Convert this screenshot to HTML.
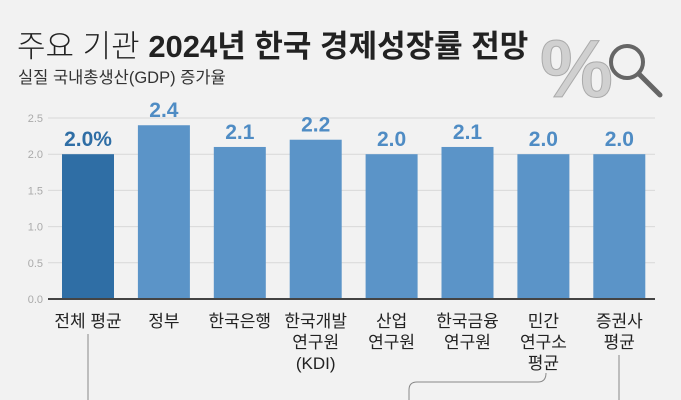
<!DOCTYPE html>
<html><head><meta charset="utf-8"><style>
body{margin:0;background:#f2f2f2;}
svg{display:block;font-family:"Liberation Sans","Noto Sans CJK KR",sans-serif;}
</style></head><body>
<svg id="c" width="681" height="400" viewBox="0 0 681 400">
<rect width="681" height="400" fill="#f2f2f2"/>
<text x="17" y="57" font-size="31" fill="#222"><tspan font-weight="300">주요 기관 </tspan><tspan font-weight="bold">2024년 한국 경제성장률 전망</tspan></text>
<text x="18" y="83" font-size="16.5" fill="#333">실질 국내총생산(GDP) 증가율</text>
<g>
<text x="540" y="97" font-size="82" font-weight="bold" fill="#d0d0d0" stroke="#aaa" stroke-width="1">%</text>
<circle cx="627" cy="62" r="16" fill="none" stroke="#666" stroke-width="4"/>
<line x1="639" y1="74" x2="660" y2="95" stroke="#666" stroke-width="5" stroke-linecap="round"/>
</g>
<g id="plot"></g>
<g fill="none" stroke="#888" stroke-width="1">
<line x1="88" y1="334" x2="88" y2="400"/>
<line x1="619" y1="355" x2="619" y2="400"/>
<path d="M546 373 Q546 382 538 382 L417 382 Q409 382 409 390 L409 400"/>
</g>
</svg>
<script>
const categories=[["전체 평균"],["정부"],["한국은행"],["한국개발","연구원","(KDI)"],["산업","연구원"],["한국금융","연구원"],["민간","연구소","평균"],["증권사","평균"]];
const values=[2.0,2.4,2.1,2.2,2.0,2.1,2.0,2.0];
const valueLabels=["2.0%","2.4","2.1","2.2","2.0","2.1","2.0","2.0"];
const ticks=[0,0.5,1,1.5,2,2.5];
const tickLabels=["0.0","0.5","1.0","1.5","2.0","2.5"];
const NS="http://www.w3.org/2000/svg";
const g=document.getElementById('plot');
const x0=50,x1=655,yBase=299,yTop=118,vmax=2.5,n=categories.length;
const y=v=>yBase-(v/vmax)*(yBase-yTop);
const xc=i=>88+i*75.9;
function mk(t,a){const e=document.createElementNS(NS,t);for(const k in a)e.setAttribute(k,a[k]);g.appendChild(e);return e;}
ticks.forEach((t,i)=>{
 if(t>0){const l=mk('line',{x1:48,x2:x1,y1:y(t),y2:y(t),stroke:'#d8d8d8','stroke-width':1});
 
 }
 const tx=mk('text',{x:43,y:y(t)+4,'font-size':11,fill:'#aaa','text-anchor':'end'});tx.textContent=tickLabels[i];
 
 
});
values.forEach((v,i)=>{
 const w=52;
 const r=mk('rect',{x:xc(i)-w/2,y:y(v),width:w,height:yBase-y(v),fill:i==0?'#2f6ea5':'#5b94c8'});
 
 
 const t=mk('text',{x:xc(i),y:y(v)-8,'font-size':21,'font-weight':'bold',fill:i==0?'#2f6ea5':'#4f8cc4','text-anchor':'middle'});
 t.textContent=valueLabels[i];
 
 
 categories[i].forEach((s,j)=>{
  const c=mk('text',{x:xc(i),y:327+j*21,'font-size':17,fill:'#222','text-anchor':'middle'});
  c.textContent=s;
  
  
 });
});
const ax=mk('line',{x1:48,x2:x1,y1:yBase,y2:yBase,stroke:'#444','stroke-width':2});


</script>
</body></html>
